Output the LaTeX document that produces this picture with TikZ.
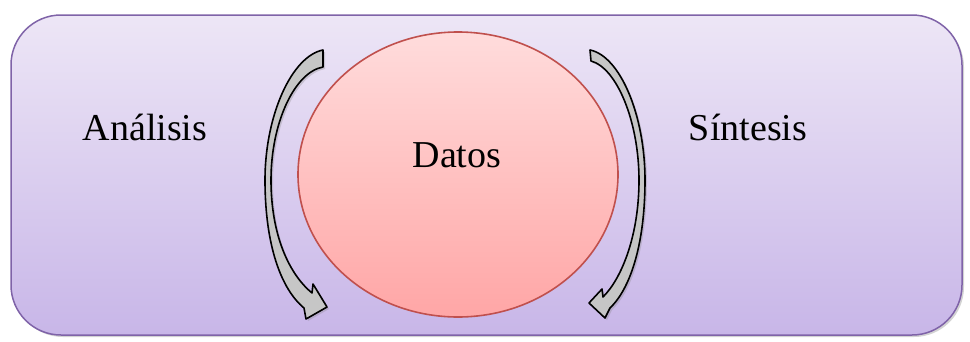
\documentclass[tikz,border=0pt]{standalone}
\usepackage{fontspec}
\setmainfont{Liberation Serif}
\usetikzlibrary{shapes.geometric,shadows}
\definecolor{bgtop}{HTML}{EDE6F6}
\definecolor{bgbot}{HTML}{C8B6E8}
\definecolor{bgline}{HTML}{7F63A8}
\definecolor{ctop}{HTML}{FFDCDC}
\definecolor{cbot}{HTML}{FFA6A6}
\definecolor{cline}{HTML}{C0504D}
\definecolor{arrfill}{HTML}{C6C6C6}
\tikzset{
  panel/.style={draw=bgline,line width=1.5pt,rounded corners=50pt,top color=bgtop,bottom color=bgbot,
    drop shadow={opacity=0.35,shadow xshift=2pt,shadow yshift=-2pt}},
  datos/.style={ellipse,draw=cline,line width=1.6pt,top color=ctop,bottom color=cbot,
    minimum width=320pt,minimum height=285pt,inner sep=0pt},
  blockarrow/.style={draw=black,line width=1.6pt,fill=arrfill,line join=round,
    drop shadow={opacity=0.3,shadow xshift=2pt,shadow yshift=-2pt}},
  label/.style={font=\fontsize{38}{44}\selectfont,anchor=base,inner sep=0pt}
}
\begin{document}
\begin{tikzpicture}[x=1pt,y=-1pt]
\useasboundingbox (0,0) rectangle (970,341);
\path[panel] (11,15) rectangle (962,335);
\node[datos] (c) at (458,174.5) {};
\node[label] (d) at (457,167) {Datos};
\node[label] (a) at (145,140) {Análisis};
\node[label] (s) at (748,140) {Síntesis};
% left curved arrow
\path[blockarrow] (323,50) .. controls (292,56) and (265,115) .. (265,180)
  .. controls (265,245) and (281,289) .. (304,308)
  -- (306,319) -- (327,307) -- (313,284) -- (312,293)
  .. controls (289,274) and (271,235) .. (271,180)
  .. controls (271,122) and (295,72) .. (323,67) -- cycle;
% right curved arrow
\path[blockarrow] (590,50) .. controls (620,56) and (645,115) .. (645,180)
  .. controls (645,245) and (630,289) .. (610,308)
  -- (605,318) -- (589,303) -- (602,289) -- (603,297)
  .. controls (622,278) and (639,235) .. (639,180)
  .. controls (639,122) and (617,68) .. (591,61) -- cycle;
\end{tikzpicture}
\end{document}
